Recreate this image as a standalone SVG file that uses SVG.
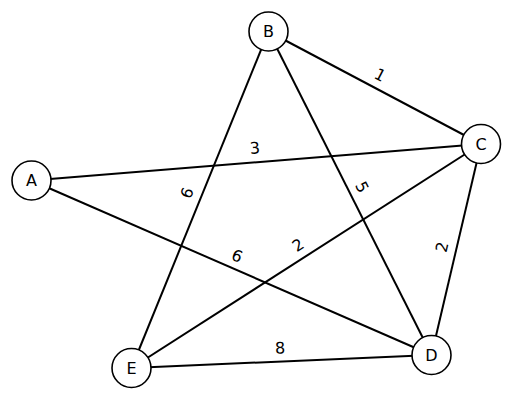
<svg xmlns="http://www.w3.org/2000/svg" width="513" height="400" viewBox="0 0 513 400">
<style>
.edge{stroke:#000;stroke-width:2;fill:none}
.node circle{fill:#fff;stroke:#000;stroke-width:1.6}
.node text{font-family:"DejaVu Sans",sans-serif;font-size:16px;text-anchor:middle;dominant-baseline:central;fill:#000}
.lbl{font-family:"DejaVu Sans",sans-serif;font-size:16px;text-anchor:middle;dominant-baseline:central;fill:#000}
</style>
<rect width="513" height="400" fill="#fff"/>
<g id="connectors">
<line class="edge" x1="268.5" y1="31.5" x2="481" y2="144"/>
<line class="edge" x1="31.5" y1="180.5" x2="481" y2="144"/>
<line class="edge" x1="268.5" y1="31.5" x2="131.5" y2="368"/>
<line class="edge" x1="268.5" y1="31.5" x2="431.5" y2="355"/>
<line class="edge" x1="31.5" y1="180.5" x2="431.5" y2="355"/>
<line class="edge" x1="481" y1="144" x2="131.5" y2="368"/>
<line class="edge" x1="481" y1="144" x2="431.5" y2="355"/>
<line class="edge" x1="131.5" y1="368" x2="431.5" y2="355"/>
<text class="lbl" transform="translate(380,75) rotate(27.9)">1</text>
<text class="lbl" transform="translate(255,148) rotate(-4.6)">3</text>
<text class="lbl" transform="translate(187,193) rotate(-67.8)">6</text>
<text class="lbl" transform="translate(362,187) rotate(63.2)">5</text>
<text class="lbl" transform="translate(237,256) rotate(23.6)">6</text>
<text class="lbl" transform="translate(298,245) rotate(-32.7)">2</text>
<text class="lbl" transform="translate(442,247) rotate(-76.8)">2</text>
<text class="lbl" transform="translate(280,348) rotate(-2.5)">8</text>
</g>
<g id="node-A" class="node"><circle cx="31.5" cy="180.5" r="19.5"/><text x="31.5" y="180.5">A</text></g>
<g id="node-B" class="node"><circle cx="268.5" cy="31.5" r="19.5"/><text x="268.5" y="31.5">B</text></g>
<g id="node-C" class="node"><circle cx="481" cy="144" r="19.5"/><text x="481" y="144">C</text></g>
<g id="node-D" class="node"><circle cx="431.5" cy="355" r="19.5"/><text x="431.5" y="355">D</text></g>
<g id="node-E" class="node"><circle cx="131.5" cy="368" r="19.5"/><text x="131.5" y="368">E</text></g>
</svg>
